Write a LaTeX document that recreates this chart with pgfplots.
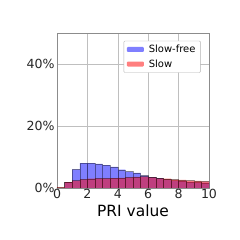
\documentclass[border=0pt]{standalone}
\usepackage{pgfplots}
\pgfplotsset{compat=1.18}
\usepackage{fontspec}
\setmainfont{DejaVu Sans}
\definecolor{bfill}{RGB}{0,0,255}
\definecolor{rfill}{RGB}{255,0,0}
\begin{document}
\begin{tikzpicture}
\begin{axis}[
  scale only axis, width=152bp, height=155bp,
  xmin=0, xmax=10, ymin=0, ymax=50,
  xtick={0,2,4,6,8,10}, ytick={0,20,40},
  yticklabels={0\%,20\%,40\%},
  /pgf/number format/assume math mode=true,
  tick label style={font=\fontsize{12.6}{14}\selectfont, text=black!85},
  xticklabel style={yshift=2bp},
  yticklabel style={xshift=1bp},
  xlabel={PRI value},
  xlabel style={font=\fontsize{15.5}{17}\selectfont, yshift=1bp},
  major tick length=0pt,
  grid=major, grid style={black!25, line width=0.5pt},
  axis line style={black!45, line width=0.6pt},
  legend cell align=left,
  legend style={at={(rel axis cs:0.945,0.95)}, anchor=north east, font=\fontsize{10}{12}\selectfont, draw=black!30, rounded corners=1pt, inner xsep=3pt, inner ysep=2pt, row sep=1.5pt,
    /tikz/every odd column/.append style={column sep=3bp}},
  legend image code/.code={\draw[#1, draw=none] (0bp,-2.5bp) rectangle (17bp,2.5bp);},
  clip=true,
]
\addplot[ybar interval, fill=bfill, fill opacity=0.5, draw=black, draw opacity=0.4, line width=0.3pt] coordinates {
(0,0.0) (0.5,1.9) (1,6.0) (1.5,8.0) (2,8.0) (2.5,7.8) (3,7.4) (3.5,6.8) (4,5.9) (4.5,5.3) (5,4.9) (5.5,4.0) (6,3.5) (6.5,3.2) (7,2.7) (7.5,2.4) (8,2.3) (8.5,2.0) (9,1.8) (9.5,1.7) (10,1.7)};
\addlegendentry{Slow-free}
\addplot[ybar interval, fill=rfill, fill opacity=0.5, draw=black, draw opacity=0.4, line width=0.3pt] coordinates {
(0,0.3) (0.5,1.9) (1,2.4) (1.5,2.8) (2,3.0) (2.5,3.1) (3,3.1) (3.5,3.2) (4,3.3) (4.5,3.4) (5,3.6) (5.5,3.7) (6,3.4) (6.5,3.1) (7,3.0) (7.5,2.7) (8,2.6) (8.5,2.4) (9,2.3) (9.5,2.1) (10,2.1)};
\addlegendentry{Slow}
\coordinate (ll) at (rel axis cs:0,0);
\end{axis}
\pgfresetboundingbox
\path (ll) ++(-57bp,-52bp) rectangle ++(240bp,240bp);
\end{tikzpicture}
\end{document}
